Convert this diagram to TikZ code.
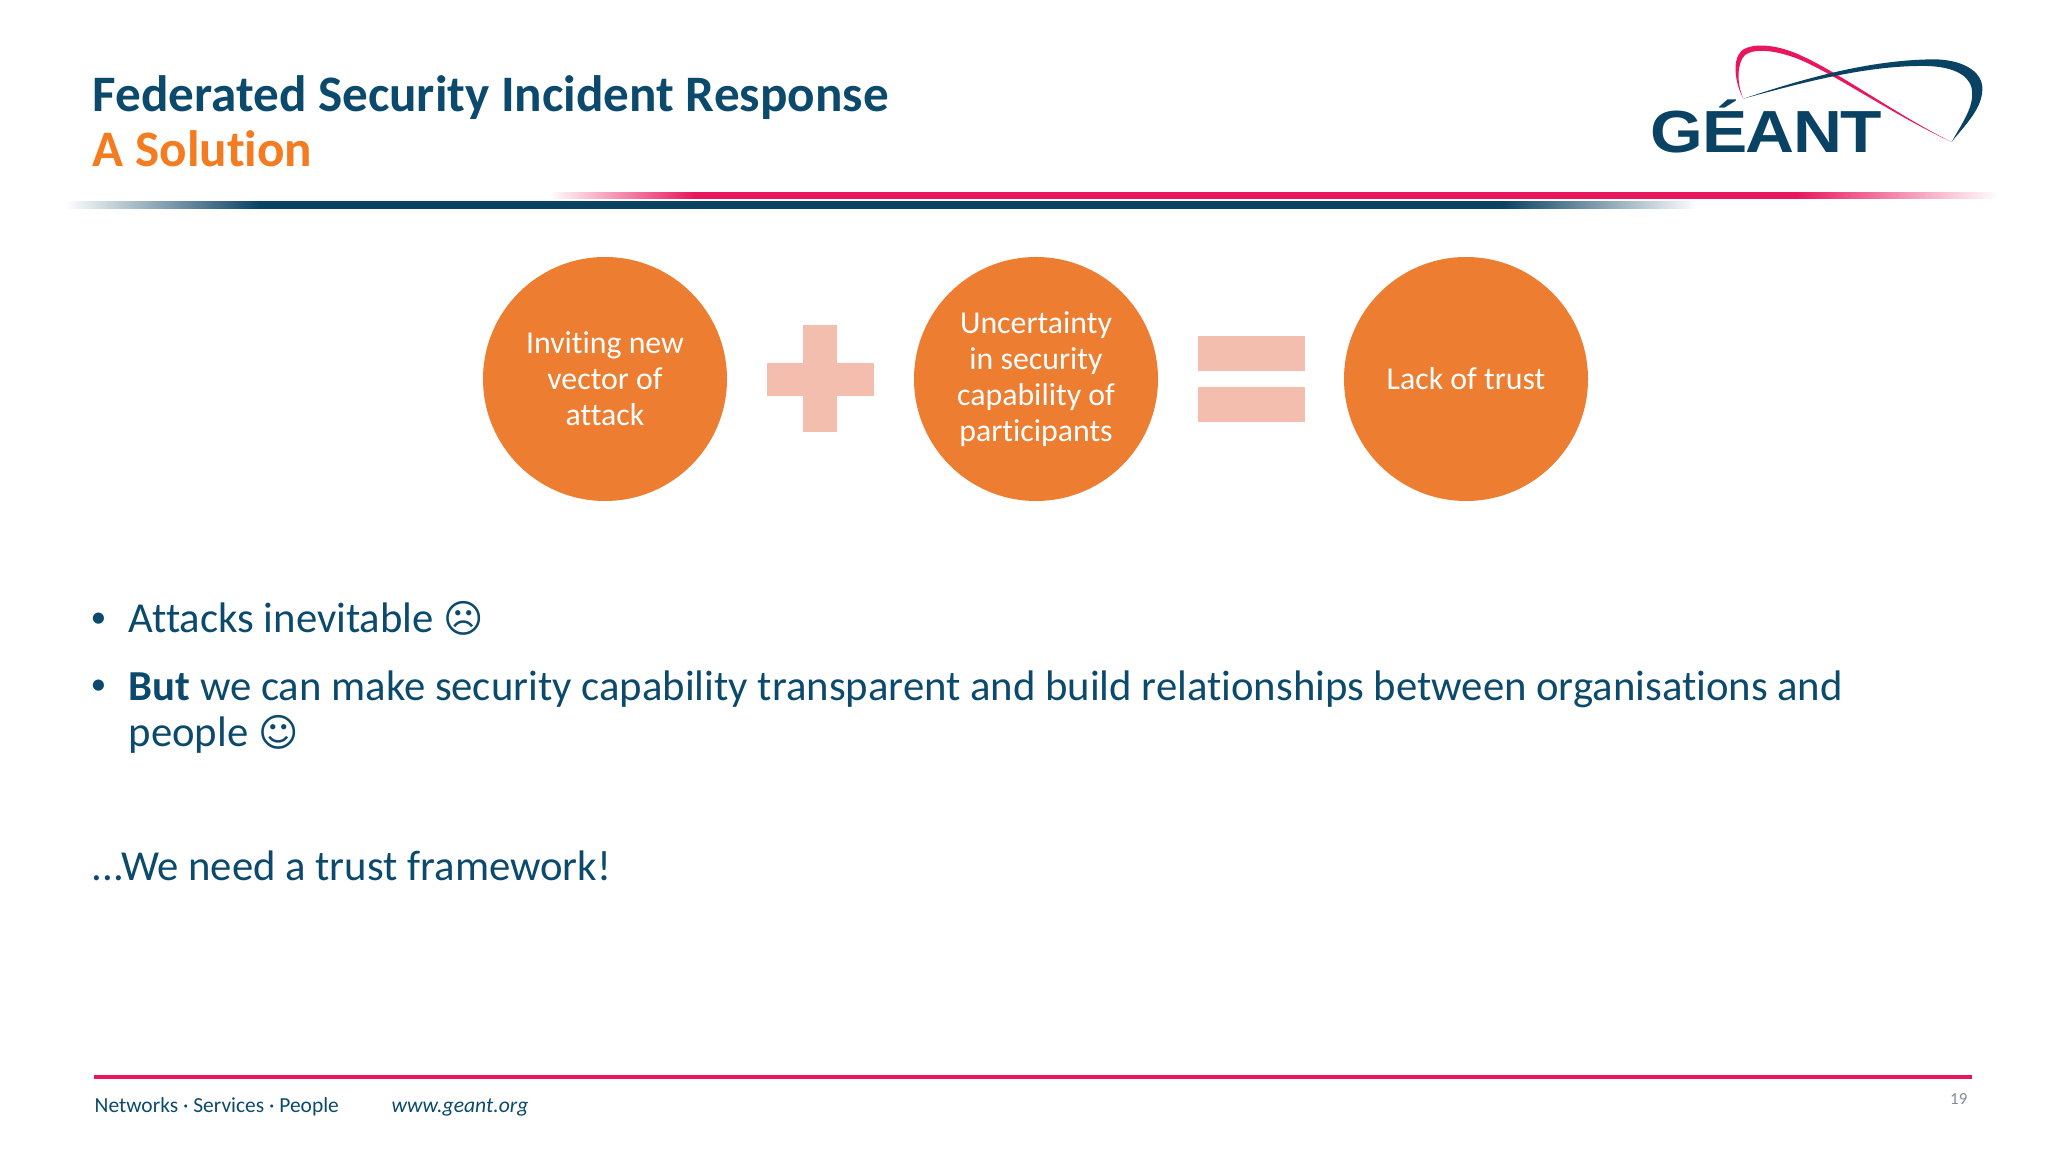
\documentclass[tikz,border=0pt]{standalone}
\usepackage{fontspec}
\setmainfont{Carlito}[Ligatures=NoCommon]
\newfontfamily\logofont{Liberation Sans}[FakeStretch=1.14,LetterSpace=-2.5]
\newfontfamily\symfont{DejaVu Sans}
\definecolor{navy}{HTML}{0B4A6C}
\definecolor{logonavy}{HTML}{0A4263}
\definecolor{rose}{HTML}{E8175D}
\definecolor{tangerine}{HTML}{F47B20}
\definecolor{disc}{HTML}{ED7D31}
\definecolor{tint}{HTML}{F4BEAE}
\definecolor{pagegrey}{HTML}{7F8C96}
\pgfdeclarehorizontalshading{rosebar}{100bp}{color(0bp)=(white); color(25bp)=(white); color(30bp)=(rose); color(68bp)=(rose); color(75bp)=(white); color(100bp)=(white)}
\pgfdeclarehorizontalshading{navybar}{100bp}{color(0bp)=(white); color(25bp)=(white); color(31bp)=(logonavy); color(69bp)=(logonavy); color(75bp)=(white); color(100bp)=(white)}

\begin{document}
\begin{tikzpicture}[x=0.01cm,y=-0.01cm]
\tikzstyle{nod}= [circle, inner sep=0pt, fill=disc, minimum size=244*0.01cm, text=white, align=center, font=\fontsize{9.05}{10.2}\selectfont]
\tikzstyle{txt}= [anchor=base west, inner sep=0pt, text=navy, font=\fontsize{12.15}{14}\selectfont]
\tikzstyle{ttl}= [anchor=base west, inner sep=0pt, font=\fontsize{14.55}{17}\bfseries\selectfont]
\tikzstyle{sign}= [fill=tint]
\useasboundingbox (0,0) rectangle (2048,1152);
%title
\node[ttl, text=navy] (title) at (92,112) {Federated Security Incident Response};
\node[ttl, text=tangerine] (sub) at (92,167) {A Solution};
%rules
\shade[shading=rosebar] (549,193) rectangle (1998,199);
\shade[shading=navybar] (65,202) rectangle (1698,209);
%logo
\begin{scope}[shift={(1600,20)},scale=1/3]
\fill[rose] (430,236) .. controls (405,190) and (395,120) .. (425,92) .. controls (460,65) and (540,75) .. (610,110) .. controls (720,160) and (900,290) .. (1055,366) .. controls (900,295) and (730,180) .. (620,128) .. controls (550,95) and (470,80) .. (435,105) .. controls (410,130) and (410,190) .. (430,236);
\fill[logonavy] (430,236) .. controls (600,180) and (800,120) .. (1000,118) .. controls (1080,118) and (1150,150) .. (1147,210) .. controls (1145,270) and (1090,320) .. (1055,366) .. controls (1085,310) and (1125,260) .. (1115,205) .. controls (1105,160) and (1050,140) .. (980,138) .. controls (800,135) and (600,190) .. (430,236);
\node[anchor=base west, inner sep=0pt, text=logonavy, font=\fontsize{16.9}{18}\bfseries\logofont] (logo) at (150,398) {GÉANT};
\end{scope}
%discs
\node[nod] (vector) at (605,379) {Inviting new\\vector of\\attack};
\node[nod] (doubt) at (1036,379) {Uncertainty\\in security\\capability of\\participants};
\node[nod] (mistrust) at (1466,379) {Lack of trust};
%plus
\fill[sign] (803,325) rectangle (837,432);
\fill[sign] (767,363) rectangle (874,396);
%equals
\fill[sign] (1198,336) rectangle (1305,371);
\fill[sign] (1198,387) rectangle (1305,422);
%bullets
\node[txt, font=\fontsize{9}{11}\selectfont] (dota) at (90,627) {•};
\node[txt] (linea) at (128,633) {Attacks inevitable {\symfont\fontsize{11}{13}\selectfont ☹}};
\node[txt, font=\fontsize{9}{11}\selectfont] (dotb) at (90,695) {•};
\node[txt] (lineb) at (128,700) {\textbf{But} we can make security capability transparent and build relationships between organisations and};
\node[txt] (linec) at (128,746) {people {\symfont\fontsize{11}{13}\selectfont ☺}};
\node[txt] (linee) at (91,880) {...We need a trust framework!};
%footer
\fill[rose] (94,1075) rectangle (1972,1079);
\node[anchor=base west, inner sep=0pt, text=navy, font=\fontsize{6.1}{7}\selectfont] (tag) at (94,1112) {Networks · Services · People};
\node[anchor=base west, inner sep=0pt, text=navy, font=\fontsize{6.15}{7}\itshape\selectfont] (url) at (391,1112) {www.geant.org};
\node[anchor=base east, inner sep=0pt, text=pagegrey, font=\fontsize{4.8}{6}\selectfont] (page) at (1968,1104) {19};
\end{tikzpicture}
\end{document}
